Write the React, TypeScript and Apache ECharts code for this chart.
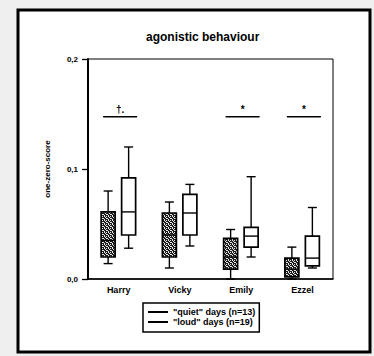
import React, { useEffect, useRef } from 'react';
import * as echarts from 'echarts';

const categories = ['Harry', 'Vicky', 'Emily', 'Ezzel'];
// five-number summaries: [min, q1, median, q3, max]
const quietStats = [
  [0.014, 0.020, 0.035, 0.061, 0.080],
  [0.010, 0.020, 0.040, 0.060, 0.070],
  [0.000, 0.009, 0.020, 0.037, 0.045],
  [0.000, 0.002, 0.009, 0.019, 0.029],
];
const loudStats = [
  [0.028, 0.040, 0.061, 0.092, 0.120],
  [0.030, 0.040, 0.060, 0.077, 0.086],
  [0.020, 0.029, 0.039, 0.047, 0.093],
  [0.010, 0.012, 0.019, 0.039, 0.065],
];
const sigCategories = [0, 2, 3];
const sigLabels = ['†.', '*', '*'];
const sigLevel = 0.1475;
const seriesNames = ['"quiet" days (n=13)', '"loud" days (n=19)'];
const titleText = 'agonistic behaviour';
const yName = 'one-zero-score';

const FONT = 'Liberation Sans, Arial, sans-serif';

function makePattern(): any {
  const c = document.createElement('canvas');
  c.width = 4;
  c.height = 4;
  const ctx = c.getContext('2d')!;
  ctx.fillStyle = '#1a1a1a';
  ctx.fillRect(0, 0, 4, 4);
  ctx.fillStyle = '#e8e8e8';
  const whites = [
    [0, 0], [2, 0], [1, 1], [3, 2], [0, 3], [2, 2],
  ];
  whites.forEach(([x, y]) => ctx.fillRect(x, y, 1, 1));
  return { image: c, repeat: 'repeat' };
}

function makeBoxRender(offset: number, fill: any) {
  return (params: any, api: any) => {
    const idx = api.value(0);
    const pts = [1, 2, 3, 4, 5].map((i) => api.coord([idx, api.value(i)]));
    const cx = pts[0][0] + offset;
    const [yMin, yQ1, yMed, yQ3, yMax] = pts.map((p: number[]) => p[1]);
    const hw = 7;
    const cw = 4.5;
    const ls = { stroke: '#000', lineWidth: 1.4 };
    return {
      type: 'group',
      children: [
        { type: 'line', shape: { x1: cx, y1: yQ3, x2: cx, y2: yMax }, style: ls },
        { type: 'line', shape: { x1: cx, y1: yMin, x2: cx, y2: yQ1 }, style: ls },
        { type: 'line', shape: { x1: cx - cw, y1: yMax, x2: cx + cw, y2: yMax }, style: ls },
        { type: 'line', shape: { x1: cx - cw, y1: yMin, x2: cx + cw, y2: yMin }, style: ls },
        {
          type: 'rect',
          shape: { x: cx - hw, y: yQ3, width: 2 * hw, height: yQ1 - yQ3 },
          style: { fill, stroke: '#000', lineWidth: 1.7 },
        },
        { type: 'line', shape: { x1: cx - hw, y1: yMed, x2: cx + hw, y2: yMed }, style: ls },
      ],
    };
  };
}

export default function App() {
  const ref = useRef<HTMLDivElement>(null);

  useEffect(() => {
    if (!ref.current) return;
    const chart = echarts.init(ref.current, undefined, { renderer: 'svg' });
    const pattern = makePattern();

    const option: any = {
      animation: false,
      backgroundColor: '#efefef',
      textStyle: { fontFamily: FONT, color: '#000' },
      title: {
        text: titleText,
        left: 146,
        top: 31,
        padding: 0,
        textStyle: { fontFamily: FONT, fontSize: 12, fontWeight: 'bold', color: '#000' },
      },
      graphic: [
        {
          type: 'rect',
          z: -10,
          shape: { x: 18, y: 10, width: 352, height: 342 },
          style: { fill: '#ffffff', stroke: '#000', lineWidth: 3 },
        },
      ],
      legend: {
        orient: 'vertical',
        left: 143,
        top: 303,
        selectedMode: false,
        borderColor: '#000',
        borderWidth: 1.5,
        padding: [4, 4, 5, 5],
        itemWidth: 20,
        itemHeight: 2,
        itemGap: 0,
        icon: 'rect',
        textStyle: { fontFamily: FONT, fontSize: 9, fontWeight: 'bold', color: '#000', lineHeight: 10 },
        data: seriesNames.map((n) => ({ name: n, itemStyle: { color: '#000' } })),
      },
      grid: {
        left: 88,
        right: 41,
        top: 59,
        bottom: 77,
        show: true,
        borderColor: '#000',
        borderWidth: 1,
        backgroundColor: 'transparent',
      },
      xAxis: {
        type: 'category',
        data: categories,
        boundaryGap: true,
        axisLine: { lineStyle: { color: '#000', width: 1.5 } },
        axisTick: { show: false },
        axisLabel: { fontFamily: FONT, fontSize: 9, fontWeight: 'bold', color: '#000', margin: 6 },
        splitLine: { show: false },
      },
      yAxis: {
        type: 'value',
        min: 0,
        max: 0.2,
        interval: 0.1,
        name: yName,
        nameLocation: 'middle',
        nameGap: 37,
        nameTextStyle: { fontFamily: FONT, fontSize: 8, fontWeight: 'bold', color: '#000' },
        axisLine: { show: true, lineStyle: { color: '#000', width: 2 } },
        axisTick: { show: true, length: 6, lineStyle: { color: '#000', width: 1.3 } },
        axisLabel: {
          fontFamily: FONT,
          fontSize: 8,
          fontWeight: 'bold',
          color: '#000',
          margin: 10,
          formatter: (v: number) => v.toFixed(1).replace('.', ','),
        },
        splitLine: { show: false },
      },
      series: [
        {
          name: seriesNames[0],
          type: 'custom',
          coordinateSystem: 'cartesian2d',
          itemStyle: { color: '#000' },
          encode: { x: 0, y: [1, 2, 3, 4, 5] },
          data: quietStats.map((s, i) => [i, ...s]),
          renderItem: makeBoxRender(-10.5, pattern),
        },
        {
          name: seriesNames[1],
          type: 'custom',
          coordinateSystem: 'cartesian2d',
          itemStyle: { color: '#000' },
          encode: { x: 0, y: [1, 2, 3, 4, 5] },
          data: loudStats.map((s, i) => [i, ...s]),
          renderItem: makeBoxRender(10, '#ffffff'),
        },
        {
          name: 'significance',
          type: 'custom',
          coordinateSystem: 'cartesian2d',
          itemStyle: { color: '#000' },
          encode: { x: 0, y: 1 },
          data: sigCategories.map((c) => [c, sigLevel]),
          renderItem: (params: any, api: any) => {
            const p = api.coord([api.value(0), api.value(1)]);
            const cx = p[0] + 1.5;
            return {
              type: 'group',
              children: [
                {
                  type: 'line',
                  shape: { x1: cx - 17, y1: p[1], x2: cx + 17, y2: p[1] },
                  style: { stroke: '#000', lineWidth: 1.4 },
                },
                {
                  type: 'text',
                  style: {
                    text: sigLabels[params.dataIndex],
                    x: cx,
                    y: p[1] - 2,
                    align: 'center',
                    verticalAlign: 'bottom',
                    fontFamily: FONT,
                    fontSize: 10,
                    fontWeight: 'bold',
                    fill: '#000',
                  },
                },
              ],
            };
          },
        },
      ],
    };

    chart.setOption(option);
    return () => chart.dispose();
  }, []);

  return (
    <div
      ref={ref}
      style={{ position: 'fixed', left: 0, top: 0, width: 374, height: 356 }}
    />
  );
}
